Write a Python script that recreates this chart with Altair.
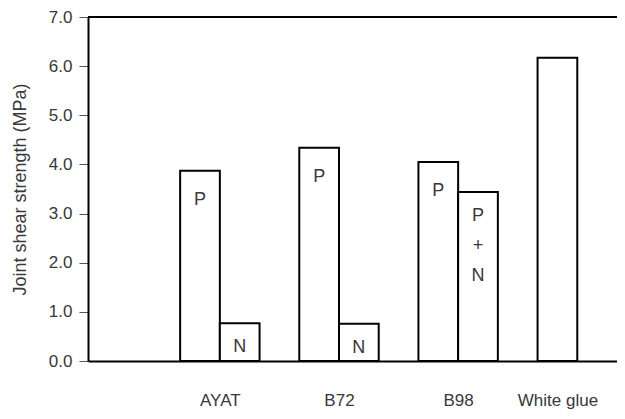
import altair as alt
import pandas as pd

# ---- data ----
bar_pos = [0, 1, 3, 4, 6, 7, 9]            # slot index of each bar (bar width = 1 slot)
bar_val = [3.87, 0.77, 4.34, 0.76, 4.05, 3.44, 6.17]
bar_label = ["P", "N", "P", "N", "P", "P\n+\nN", ""]
group_names = ["AYAT", "B72", "B98", "White glue"]
group_pos = [1, 4, 7, 9.5]
y_ticks = [0, 1, 2, 3, 4, 5, 6, 7]
y_top = [7]

df = pd.DataFrame({"pos": bar_pos, "val": bar_val, "label": bar_label})
top_df = pd.DataFrame({"top": y_top})

W, H = 529, 344
FONT = "Liberation Sans"
TXT = "#383838"

label_expr = " : ".join(
    f"datum.value == {p} ? '{n}'" for p, n in zip(group_pos, group_names)
) + " : ''"

xscale = alt.Scale(domain=[-2.32, 11.0], nice=False, zero=False)
yscale = alt.Scale(domain=[0, 7], nice=False)

x_axis = alt.Axis(
    values=group_pos, labelExpr=label_expr, ticks=False, grid=False,
    title=None, domainColor="black", domainWidth=2, labelFontSize=17,
    labelFont=FONT, labelColor=TXT, labelPadding=31, labelFlush=False,
    labelOverlap=False, labelBound=False,
)
y_axis = alt.Axis(
    values=y_ticks, format=".1f", grid=False,
    title="Joint shear strength (MPa)",
    domainColor="black", domainWidth=2,
    tickColor="#555555", tickWidth=1, tickSize=9,
    labelFontSize=17, labelFont=FONT, labelColor=TXT, labelPadding=7,
    titleFont=FONT, titleFontSize=18, titleFontWeight="normal",
    titleColor=TXT, titleX=-68, titleY=H / 2, titleAngle=270,
    titleAlign="center", titleBaseline="middle",
)

base = alt.Chart(df).transform_calculate(end="datum.pos + 1", mid="datum.pos + 0.5")

bars = base.mark_bar(fill="white", stroke="black", strokeWidth=2).encode(
    x=alt.X("pos:Q", scale=xscale, axis=x_axis),
    x2="end:Q",
    y=alt.Y("val:Q", scale=yscale, axis=y_axis),
    y2=alt.datum(0),
)

top_rule = alt.Chart(top_df).mark_rule(color="black", strokeWidth=2).encode(
    y=alt.Y("top:Q", scale=yscale, axis=y_axis),
    x=alt.value(0),
    x2=alt.value(W),
)

p_text = base.transform_filter("datum.label == 'P'").mark_text(
    baseline="top", dy=20, fontSize=18, font=FONT, color=TXT
).encode(
    x=alt.X("mid:Q", scale=xscale, axis=x_axis),
    y=alt.Y("val:Q", scale=yscale, axis=y_axis),
    text="label:N",
)

o_text = base.transform_filter("datum.label != 'P' && datum.label != ''").mark_text(
    baseline="top", dy=15, fontSize=18, font=FONT, color=TXT,
    lineBreak="\n", lineHeight=30,
).encode(
    x=alt.X("mid:Q", scale=xscale, axis=x_axis),
    y=alt.Y("val:Q", scale=yscale, axis=y_axis),
    text="label:N",
)

chart = alt.layer(bars, top_rule, p_text, o_text).properties(
    width=W,
    height=H,
    autosize=alt.AutoSizeParams(type="none"),
    padding={"left": 80, "top": 9, "right": 0, "bottom": 50},
).configure_view(stroke=None)

chart.save("out.html", embed_options={"renderer": "svg", "actions": False})
